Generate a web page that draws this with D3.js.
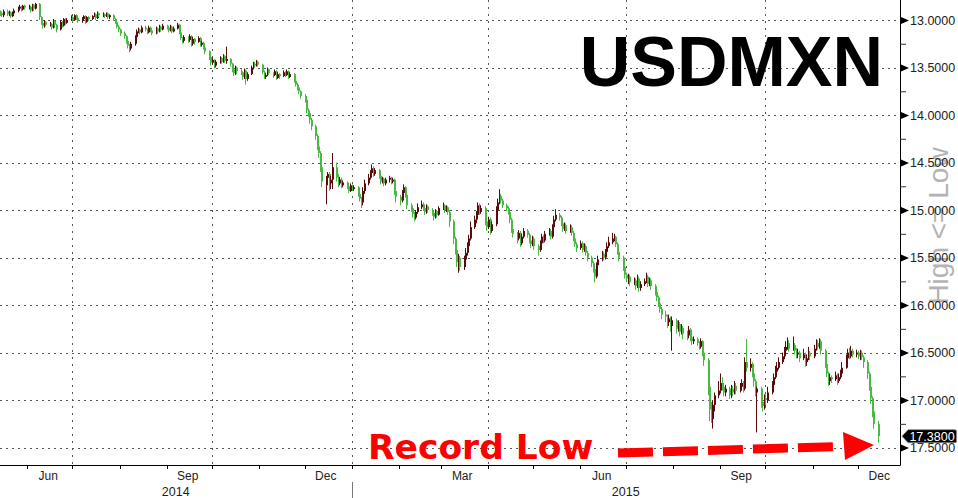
<!DOCTYPE html>
<html><head><meta charset="utf-8">
<script src="https://cdnjs.cloudflare.com/ajax/libs/d3/7.8.5/d3.min.js"></script>
<style>
html,body{margin:0;padding:0;background:#fff;}
svg{display:block;}
</style></head>
<body><svg id="chart" width="958" height="498"></svg>
<script>
// ---------------- DATA ----------------
const title = "USDMXN";
const startDate = "2014-05-14";
const endDate = "2015-12-14";
const firstOpen = 12.92;
const lastPrice = 17.38;
// daily closes, one line per week
const closes = [
12.93,12.95,12.91,
12.94,12.92,12.96,12.93,12.90,
12.88,12.86,12.89,12.85,12.87,
12.86,12.90,12.84,12.88,12.83,
12.97,13.03,13.06,13.02,13.05,
13.04,13.08,13.01,13.05,13.10,
13.02,13.06,12.99,13.03,13.00,
12.97,13.00,12.95,12.98,13.01,
12.99,12.96,13.02,12.97,12.99,
12.96,12.94,12.98,12.93,12.95,
12.94,12.96,12.93,12.97,12.95,
12.99,13.02,13.07,13.10,13.14,
13.17,13.22,13.27,13.30,13.25,
13.18,13.12,13.10,13.13,13.08,
13.10,13.13,13.08,13.11,13.14,
13.09,13.12,13.07,13.10,13.06,
13.08,13.11,13.07,13.12,13.09,
13.05,13.13,13.19,13.22,13.18,
13.21,13.17,13.25,13.20,13.23,
13.19,13.26,13.24,13.29,13.33,
13.39,13.45,13.42,13.48,13.44,
13.40,13.44,13.38,13.43,13.41,
13.46,13.52,13.56,13.50,13.54,
13.55,13.60,13.53,13.62,13.57,
13.50,13.46,13.48,13.44,13.47,
13.55,13.60,13.58,13.52,13.56,
13.58,13.54,13.61,13.57,13.59,
13.55,13.58,13.54,13.60,13.57,
13.64,13.68,13.71,13.75,13.80,
13.84,13.95,13.98,14.05,14.12,
14.22,14.33,14.40,14.55,14.70,
14.66,14.62,14.72,14.68,14.55,
14.66,14.72,14.68,14.74,14.71,
14.75,14.80,14.74,14.78,14.76,
14.83,14.88,14.92,14.80,14.72,
14.66,14.61,14.56,14.62,14.58,
14.64,14.70,14.67,14.72,14.68,
14.66,14.70,14.68,14.80,14.86,
14.90,14.82,14.76,14.84,14.95,
14.98,15.04,15.08,15.02,14.97,
14.94,14.98,15.02,14.96,15.00,
15.03,15.07,15.01,15.05,14.98,
14.95,15.00,14.97,15.02,15.12,
15.30,15.42,15.55,15.50,15.60,
15.52,15.45,15.38,15.30,15.18,
15.10,15.05,14.95,15.02,14.98,
15.12,15.18,15.10,15.22,15.15,
15.00,14.92,14.85,14.90,14.95,
14.98,15.02,15.10,15.20,15.25,
15.30,15.24,15.35,15.28,15.22,
15.26,15.32,15.36,15.30,15.38,
15.42,15.35,15.28,15.32,15.25,
15.22,15.28,15.18,15.10,15.05,
15.08,15.14,15.20,15.16,15.22,
15.18,15.24,15.30,15.36,15.40,
15.35,15.42,15.38,15.45,15.50,
15.56,15.62,15.70,15.58,15.52,
15.46,15.50,15.44,15.38,15.34,
15.30,15.28,15.36,15.44,15.50,
15.60,15.68,15.72,15.70,15.76,
15.74,15.80,15.72,15.82,15.78,
15.75,15.70,15.78,15.74,15.80,
15.86,15.92,15.98,16.04,16.10,
16.12,16.18,16.14,16.22,16.16,
16.25,16.20,16.28,16.24,16.30,
16.32,16.26,16.34,16.38,16.36,
16.40,16.44,16.38,16.50,16.58,
16.86,17.10,17.20,17.05,16.95,
16.90,16.82,16.86,16.92,16.88,
16.95,16.88,16.92,16.85,16.90,
16.86,16.82,16.88,16.60,16.66,
16.62,16.72,16.80,16.92,16.88,
17.02,17.06,16.98,17.00,16.92,
16.84,16.76,16.70,16.66,16.60,
16.54,16.48,16.44,16.40,16.46,
16.42,16.48,16.52,16.50,16.56,
16.52,16.60,16.56,16.50,16.54,
16.46,16.40,16.44,16.38,16.48,
16.62,16.72,16.80,16.76,16.78,
16.74,16.80,16.76,16.72,16.66,
16.56,16.50,16.54,16.48,16.52,
16.50,16.54,16.50,16.55,16.60,
16.72,16.86,16.98,17.12,17.25,
17.38
];
const highs = [
12.96,12.97,12.97,
12.96,12.96,12.98,12.97,12.94,
12.92,12.90,12.91,12.90,12.89,
12.89,12.92,12.91,12.90,12.89,
13.00,13.05,13.09,13.08,13.07,
13.07,13.10,13.09,13.07,13.13,
13.11,13.08,13.07,13.05,13.04,
13.01,13.02,13.01,13.00,13.03,
13.03,13.00,13.04,13.03,13.01,
13.00,12.97,13.00,12.99,12.97,
12.97,12.98,12.97,12.99,12.99,
13.01,13.04,13.09,13.13,13.17,
13.20,13.25,13.30,13.34,13.32,
13.27,13.20,13.14,13.15,13.14,
13.12,13.15,13.14,13.13,13.16,
13.15,13.14,13.13,13.12,13.11,
13.10,13.13,13.12,13.14,13.13,
13.10,13.15,13.21,13.25,13.24,
13.24,13.23,13.28,13.27,13.26,
13.24,13.28,13.28,13.31,13.36,
13.42,13.48,13.47,13.51,13.50,
13.46,13.46,13.45,13.45,13.46,
13.49,13.55,13.59,13.58,13.57,
13.58,13.63,13.62,13.68,13.64,
13.58,13.52,13.50,13.49,13.49,
13.57,13.62,13.62,13.59,13.58,
13.61,13.59,13.63,13.62,13.62,
13.60,13.60,13.59,13.62,13.61,
13.66,13.70,13.74,13.78,13.83,
13.87,13.98,14.02,14.09,14.16,
14.26,14.37,14.45,14.60,14.76,
14.94,14.74,14.80,14.78,14.78,
14.70,14.76,14.74,14.77,14.76,
14.78,14.82,14.81,14.80,14.80,
14.86,14.91,14.98,14.95,14.83,
14.74,14.68,14.63,14.65,14.64,
14.67,14.73,14.72,14.75,14.74,
14.71,14.73,14.72,14.84,14.92,
14.95,14.92,14.84,14.87,14.99,
15.02,15.08,15.12,15.10,15.04,
14.99,15.01,15.05,15.04,15.03,
15.06,15.11,15.09,15.08,15.06,
15.00,15.03,15.02,15.05,15.18,
15.36,15.47,15.60,15.66,15.64,
15.63,15.55,15.48,15.40,15.32,
15.20,15.14,15.07,15.05,15.04,
15.16,15.22,15.20,15.26,15.24,
15.17,15.02,14.94,14.93,14.98,
15.01,15.05,15.14,15.24,15.29,
15.35,15.32,15.39,15.37,15.30,
15.29,15.35,15.40,15.38,15.42,
15.48,15.44,15.37,15.35,15.34,
15.27,15.31,15.30,15.20,15.12,
15.11,15.17,15.23,15.22,15.25,
15.24,15.27,15.33,15.39,15.44,
15.42,15.45,15.44,15.48,15.54,
15.60,15.66,15.76,15.72,15.60,
15.54,15.53,15.52,15.46,15.40,
15.36,15.33,15.39,15.47,15.54,
15.64,15.72,15.76,15.78,15.80,
15.79,15.84,15.82,15.86,15.85,
15.80,15.77,15.81,15.80,15.84,
15.90,15.96,16.02,16.08,16.15,
16.18,16.24,16.22,16.28,16.48,
16.30,16.28,16.33,16.31,16.36,
16.37,16.35,16.38,16.42,16.41,
16.43,16.47,16.46,16.54,16.64,
16.95,17.22,17.24,17.30,17.12,
16.98,16.93,16.90,16.96,16.96,
16.99,16.98,16.96,16.94,16.94,
16.92,16.90,16.92,16.90,16.70,
16.70,16.76,16.86,16.96,17.34,
17.08,17.12,17.10,17.05,17.03,
16.94,16.86,16.78,16.73,16.68,
16.62,16.57,16.51,16.47,16.49,
16.48,16.52,16.56,16.56,16.60,
16.58,16.65,16.64,16.58,16.58,
16.56,16.48,16.47,16.46,16.52,
16.66,16.76,16.85,16.84,16.82,
16.80,16.84,16.82,16.78,16.74,
16.67,16.58,16.57,16.56,16.55,
16.55,16.57,16.58,16.58,16.66,
16.78,16.90,17.04,17.18,17.30,
17.45
];
const lows = [
12.90,12.91,12.89,
12.89,12.90,12.91,12.91,12.88,
12.86,12.84,12.85,12.84,12.84,
12.84,12.85,12.83,12.83,12.82,
12.82,12.96,13.01,13.00,13.01,
13.02,13.03,12.99,13.00,13.04,
13.00,13.01,12.98,12.98,12.98,
12.95,12.96,12.94,12.94,12.97,
12.97,12.95,12.95,12.96,12.96,
12.95,12.92,12.93,12.91,12.92,
12.92,12.93,12.92,12.92,12.94,
12.94,12.98,13.01,13.05,13.09,
13.12,13.16,13.21,13.25,13.23,
13.16,13.10,13.08,13.09,13.06,
13.06,13.09,13.06,13.07,13.10,
13.07,13.08,13.05,13.06,13.04,
13.05,13.07,13.05,13.06,13.07,
13.03,13.04,13.12,13.18,13.16,
13.17,13.15,13.16,13.18,13.19,
13.17,13.18,13.22,13.23,13.28,
13.32,13.38,13.40,13.41,13.42,
13.38,13.39,13.36,13.37,13.28,
13.40,13.45,13.50,13.48,13.49,
13.52,13.54,13.51,13.52,13.55,
13.48,13.44,13.44,13.42,13.43,
13.46,13.53,13.56,13.50,13.51,
13.55,13.52,13.53,13.55,13.56,
13.53,13.54,13.52,13.53,13.55,
13.56,13.62,13.66,13.70,13.74,
13.78,13.83,13.93,13.96,14.03,
14.10,14.20,14.30,14.38,14.52,
14.64,14.60,14.60,14.64,14.40,
14.50,14.62,14.65,14.66,14.69,
14.70,14.73,14.72,14.73,14.74,
14.75,14.81,14.86,14.76,14.68,
14.62,14.58,14.52,14.54,14.56,
14.57,14.62,14.65,14.66,14.66,
14.64,14.65,14.66,14.67,14.78,
14.84,14.79,14.73,14.75,14.82,
14.93,14.96,15.02,15.00,14.93,
14.90,14.92,14.96,14.94,14.95,
14.98,15.01,14.99,15.00,14.96,
14.92,14.94,14.95,14.96,15.00,
15.10,15.28,15.40,15.46,15.48,
15.48,15.40,15.34,15.26,15.12,
15.06,15.01,14.92,14.93,14.95,
14.96,15.10,15.07,15.08,15.12,
14.96,14.88,14.78,14.83,14.88,
14.93,14.96,15.00,15.08,15.18,
15.23,15.21,15.22,15.25,15.19,
15.20,15.24,15.30,15.27,15.28,
15.36,15.32,15.25,15.26,15.22,
15.19,15.20,15.15,15.06,14.99,
15.03,15.06,15.12,15.13,15.14,
15.15,15.16,15.22,15.28,15.34,
15.32,15.33,15.35,15.36,15.43,
15.48,15.54,15.60,15.55,15.48,
15.43,15.44,15.41,15.34,15.28,
15.24,15.25,15.27,15.34,15.42,
15.48,15.58,15.66,15.67,15.68,
15.71,15.72,15.68,15.70,15.75,
15.72,15.66,15.68,15.71,15.72,
15.78,15.84,15.90,15.96,16.02,
16.06,16.10,16.10,16.12,16.12,
16.14,16.16,16.18,16.20,16.22,
16.27,16.22,16.24,16.31,16.33,
16.34,16.38,16.35,16.37,16.48,
16.56,16.84,17.02,17.00,16.92,
16.80,16.72,16.76,16.82,16.84,
16.86,16.84,16.85,16.80,16.82,
16.82,16.78,16.80,16.55,16.36,
16.56,16.60,16.70,16.78,16.86,
16.86,16.98,16.94,16.94,16.86,
16.80,16.72,16.64,16.60,16.55,
16.50,16.44,16.38,16.34,16.37,
16.33,16.40,16.45,16.46,16.48,
16.46,16.50,16.52,16.44,16.48,
16.42,16.36,16.37,16.35,16.36,
16.46,16.60,16.70,16.72,16.74,
16.70,16.72,16.72,16.68,16.60,
16.52,16.46,16.45,16.43,16.46,
16.47,16.48,16.47,16.48,16.53,
16.58,16.70,16.84,16.96,17.10,
17.22
];
const yTicks = [13.0,13.5,14.0,14.5,15.0,15.5,16.0,16.5,17.0,17.5];
const yMinorTicks = [13.25,13.75,14.25,14.75,15.25,15.75,16.25,16.75,17.25];
const gridDates = ["2014-07-01","2014-10-01","2015-01-01","2015-04-01","2015-07-01","2015-10-01"];
const monthLabels = ["Jun","Sep","Dec","Mar","Jun","Sep","Dec"];
const monthLabelDates = ["2014-06-15","2014-09-15","2014-12-15","2015-03-15","2015-06-15","2015-09-15","2015-12-15"];
const yearLabels = ["2014","2015"];
const annotation = "Record Low";
const sideNote = "High <= Low";

// ---------------- CHART ----------------
const W = 958, H = 498;
const plotR = 900, plotB = 465;
const parse = d3.timeParse("%Y-%m-%d");
const svg = d3.select("#chart");

const x = d3.scaleTime().domain([parse("2014-06-01"), parse("2015-12-01")]).range([27, 858]);
const y = d3.scaleLinear().domain([13, 17.5]).range([20, 447.6]);

const allDays = d3.timeDay.range(parse(startDate), d3.timeDay.offset(parse(endDate), 1))
  .filter(d => d.getDay() !== 0 && d.getDay() !== 6);
const n = Math.min(allDays.length, closes.length, highs.length, lows.length);
const bars = d3.range(n).map(i => ({
  date: allDays[i],
  open: i === 0 ? firstOpen : closes[i-1],
  close: closes[i], high: highs[i], low: lows[i]
}));

svg.append("defs").append("clipPath").attr("id","plotclip")
  .append("rect").attr("x",0).attr("y",0).attr("width",plotR).attr("height",plotB);

// side note (rotated, behind everything)
svg.append("text").attr("transform","translate(948,226) rotate(-90)")
  .attr("text-anchor","middle").attr("font-family","Liberation Sans, Arial, sans-serif")
  .attr("font-size",28).attr("fill","#b4b4b4").text(sideNote);

// grid
const grid = svg.append("g");
grid.selectAll("line.h").data(yTicks).join("line")
  .attr("x1",0).attr("x2",plotR)
  .attr("y1",d=>Math.round(y(d))+0.5).attr("y2",d=>Math.round(y(d))+0.5)
  .attr("stroke","#555").attr("stroke-width",1).attr("stroke-dasharray","2,4");
grid.selectAll("line.v").data(gridDates.map(parse)).join("line")
  .attr("x1",d=>Math.round(x(d))+0.5).attr("x2",d=>Math.round(x(d))+0.5)
  .attr("y1",0).attr("y2",plotB)
  .attr("stroke","#555").attr("stroke-width",1).attr("stroke-dasharray","2,5");

// candles
const up = "#4ab845", dn = "#5a0c0c";
const cg = svg.append("g").attr("clip-path","url(#plotclip)");
const cs = cg.selectAll("g.c").data(bars).join("g");
cs.append("line")
  .attr("x1",d=>Math.round(x(d.date))+0.5).attr("x2",d=>Math.round(x(d.date))+0.5)
  .attr("y1",d=>y(d.low)).attr("y2",d=>y(d.high))
  .attr("stroke",d=>d.close>=d.open?up:dn).attr("stroke-width",1);
cs.append("rect")
  .attr("x",d=>Math.round(x(d.date))).attr("width",2)
  .attr("y",d=>Math.min(y(d.open),y(d.close)))
  .attr("height",d=>Math.max(1,Math.abs(y(d.open)-y(d.close))))
  .attr("fill",d=>d.close>=d.open?up:dn);

// axes frame
svg.append("line").attr("x1",0).attr("x2",plotR+0.5).attr("y1",plotB+0.5).attr("y2",plotB+0.5).attr("stroke","#000");
svg.append("line").attr("x1",plotR+0.5).attr("x2",plotR+0.5).attr("y1",0).attr("y2",plotB+0.5).attr("stroke","#000");

// bottom axis ticks (monthly)
const xAxis = d3.axisBottom(x).ticks(d3.timeMonth.every(1)).tickSize(4).tickFormat("");
const gx = svg.append("g").attr("transform",`translate(0,${plotB})`).call(xAxis);
gx.select(".domain").remove();
gx.selectAll(".tick line").attr("stroke","#000");
gx.selectAll(".tick").attr("transform", d => `translate(${Math.round(x(d))+0.5},0)`);

svg.append("g").selectAll("text").data(monthLabels).join("text")
  .attr("x",(d,i)=>x(parse(monthLabelDates[i]))).attr("y",480)
  .attr("text-anchor","middle").attr("font-family","Liberation Sans, Arial, sans-serif")
  .attr("font-size",12).attr("fill","#222").text(d=>d);
const yearSplit = x(parse("2015-01-01"));
svg.append("g").selectAll("text").data(yearLabels).join("text")
  .attr("x",(d,i)=> i===0 ? yearSplit/2 : (yearSplit+plotR)/2).attr("y",496)
  .attr("text-anchor","middle").attr("font-family","Liberation Sans, Arial, sans-serif")
  .attr("font-size",12.5).attr("fill","#222").text(d=>d);
svg.append("line").attr("x1",Math.round(yearSplit)+0.5).attr("x2",Math.round(yearSplit)+0.5)
  .attr("y1",482).attr("y2",498).attr("stroke","#777");

// right axis
const gy = svg.append("g").attr("transform",`translate(${plotR},0)`);
gy.call(d3.axisRight(y).tickValues(yMinorTicks).tickSize(6).tickFormat(""));
gy.select(".domain").remove();
gy.selectAll(".tick line").attr("stroke","#333");
const yAxisMaj = d3.axisRight(y).tickValues(yTicks).tickSize(0).tickPadding(10).tickFormat(d3.format(".4f"));
const gy2 = svg.append("g").attr("transform",`translate(${plotR},0)`).call(yAxisMaj);
gy2.select(".domain").remove();
gy2.selectAll(".tick text").attr("font-family","Liberation Sans, Arial, sans-serif").attr("font-size",12.5).attr("fill","#222");
gy2.selectAll(".tick").append("path").attr("d","M1,-3.5L9,0L1,3.5Z").attr("fill","#000");

// last price tag
const ty = y(lastPrice);
svg.append("path").attr("d",`M902,${ty} L908,${ty-6.5} L955,${ty-6.5} Q956.5,${ty-6.5} 956.5,${ty-5} L956.5,${ty+5} Q956.5,${ty+6.5} 955,${ty+6.5} L908,${ty+6.5} Z`)
  .attr("fill","#000").attr("stroke","#888").attr("stroke-width",0.8);
svg.append("text").attr("x",932).attr("y",ty).attr("dy","0.35em").attr("text-anchor","middle")
  .attr("font-family","Liberation Sans, Arial, sans-serif").attr("font-size",12.5).attr("fill","#fff")
  .text(d3.format(".4f")(lastPrice));

// title
svg.append("text").attr("x",883).attr("y",86).attr("text-anchor","end")
  .attr("font-family","Liberation Sans, Arial, sans-serif").attr("font-weight","bold")
  .attr("font-size",70).attr("fill","#000").text(title);

// annotation
svg.append("text").attr("x",368).attr("y",459)
  .attr("font-family","DejaVu Sans, sans-serif").attr("font-weight","bold")
  .attr("font-size",34.5).attr("fill","#f00").text(annotation);

// red dashed arrow
svg.append("line").attr("x1",618).attr("y1",453).attr("x2",842).attr("y2",446.5)
  .attr("stroke","#f00").attr("stroke-width",9).attr("stroke-dasharray","35,10");
svg.append("path").attr("d","M843,432 L874,445 L845,460 Z").attr("fill","#f00");
</script>
</body></html>
